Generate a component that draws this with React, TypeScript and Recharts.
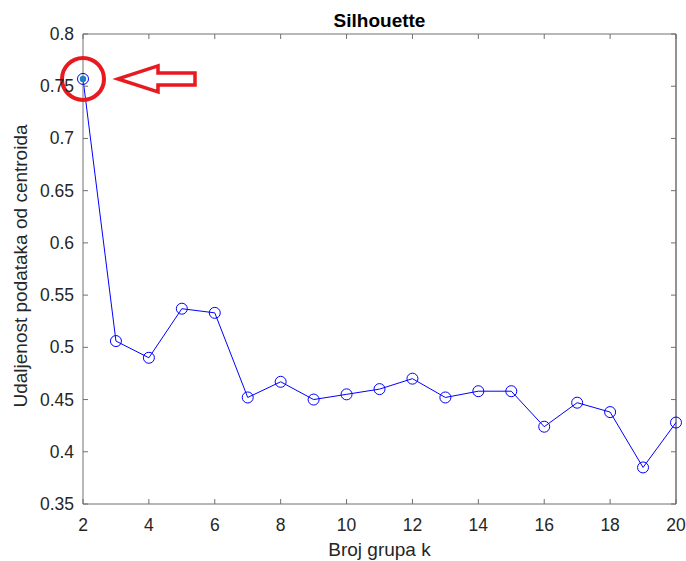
import { LineChart, Line, XAxis, YAxis, ReferenceLine, ReferenceDot, Label } from 'recharts';

const K_VALUES = [2, 3, 4, 5, 6, 7, 8, 9, 10, 11, 12, 13, 14, 15, 16, 17, 18, 19, 20];
const SILHOUETTE = [
  0.757, 0.506, 0.49, 0.537, 0.533, 0.452, 0.467, 0.45, 0.455, 0.46,
  0.47, 0.452, 0.458, 0.458, 0.424, 0.447, 0.438, 0.385, 0.428,
];
const X_TICKS = [2, 4, 6, 8, 10, 12, 14, 16, 18, 20];
const Y_TICKS = [0.35, 0.4, 0.45, 0.5, 0.55, 0.6, 0.65, 0.7, 0.75, 0.8];
const TITLE = 'Silhouette';
const X_LABEL = 'Broj grupa k';
const Y_LABEL = 'Udaljenost podataka od centroida';
const HIGHLIGHT_K = 2;

const FONT = 'Arial, "Liberation Sans", sans-serif';
const TEXT = '#262626';
const AXIS = '#707070';
const BLUE = '#0000ff';
const RED = '#e8191f';

// plot box (matches margins / axis sizes below)
const LEFT = 83;
const RIGHT = 676;
const TOP = 34;
const BOTTOM = 504;
const TICK = 5;

const data = K_VALUES.map((k, i) => ({ k, s: SILHOUETTE[i] }));

function XTick(props: any) {
  const { x, payload } = props;
  return (
    <g>
      <line x1={x} x2={x} y1={BOTTOM} y2={BOTTOM - TICK} stroke={AXIS} />
      <line x1={x} x2={x} y1={TOP} y2={TOP + TICK} stroke={AXIS} />
      <text x={x} y={531} textAnchor="middle" fontSize={17.5} fontFamily={FONT} fill={TEXT}>
        {payload.value}
      </text>
    </g>
  );
}

function YTick(props: any) {
  const { y, payload } = props;
  return (
    <g>
      <line x1={LEFT} x2={LEFT + TICK} y1={y} y2={y} stroke={AXIS} />
      <line x1={RIGHT} x2={RIGHT - TICK} y1={y} y2={y} stroke={AXIS} />
      <text x={74} y={y + 6} textAnchor="end" fontSize={17.5} fontFamily={FONT} fill={TEXT}>
        {String(payload.value)}
      </text>
    </g>
  );
}

function Marker(props: any) {
  const { cx, cy, payload } = props;
  if (cx == null || cy == null) return null;
  return (
    <g key={payload.k}>
      <circle cx={cx} cy={cy} r={5.5} fill="none" stroke={BLUE} strokeWidth={1} />
      {payload.k === HIGHLIGHT_K && <circle cx={cx} cy={cy} r={3.2} fill="#1f7fc4" />}
    </g>
  );
}

function Callout(props: any) {
  const { cx, cy } = props;
  const arrow = [
    [35, 0], [75, -13], [75, -6], [112, -6], [112, 6], [75, 6], [75, 13],
  ]
    .map(([dx, dy], i) => `${i ? 'L' : 'M'}${cx + dx},${cy + dy}`)
    .join(' ') + ' Z';
  return (
    <g>
      <circle cx={cx} cy={cy} r={21} fill="none" stroke={RED} strokeWidth={4} />
      <path d={arrow} fill="none" stroke={RED} strokeWidth={3.5} strokeLinejoin="miter" />
    </g>
  );
}

export default function App() {
  return (
    <div style={{ position: 'absolute', left: 0, top: 0, width: 686, height: 561, background: '#fff' }}>
      <div
        style={{
          position: 'absolute', left: LEFT, width: RIGHT - LEFT, top: 11, textAlign: 'center',
          fontFamily: FONT, fontWeight: 'bold', fontSize: 19, lineHeight: '19px', color: '#000',
        }}
      >
        {TITLE}
      </div>
      <LineChart width={686} height={561} data={data} margin={{ top: 34, right: 10, bottom: 0, left: 0 }}>
        <XAxis
          dataKey="k"
          type="number"
          domain={[2, 20]}
          ticks={X_TICKS}
          height={57}
          tickLine={false}
          tickSize={0}
          tick={<XTick />}
          axisLine={{ stroke: AXIS }}
          interval={0}
        >
          <Label
            content={() => (
              <text x={(LEFT + RIGHT) / 2} y={556} textAnchor="middle" fontSize={19} fontFamily={FONT} fill={TEXT}>
                {X_LABEL}
              </text>
            )}
          />
        </XAxis>
        <YAxis
          type="number"
          domain={[0.35, 0.8]}
          ticks={Y_TICKS}
          width={83}
          tickLine={false}
          tickSize={0}
          tick={<YTick />}
          axisLine={{ stroke: AXIS }}
          allowDataOverflow
          interval={0}
        >
          <Label
            content={() => (
              <text
                x={27}
                y={266}
                transform="rotate(-90 27 266)"
                textAnchor="middle"
                fontSize={19}
                fontFamily={FONT}
                fill={TEXT}
              >
                {Y_LABEL}
              </text>
            )}
          />
        </YAxis>
        <ReferenceLine y={0.8} stroke={AXIS} />
        <ReferenceLine x={20} stroke="#262626" />
        <Line
          dataKey="s"
          stroke={BLUE}
          strokeWidth={1}
          dot={<Marker />}
          activeDot={false}
          isAnimationActive={false}
        />
        <ReferenceDot
          x={HIGHLIGHT_K}
          y={SILHOUETTE[0]}
          ifOverflow="visible"
          shape={(p: any) => <Callout {...p} />}
        />
      </LineChart>
    </div>
  );
}
